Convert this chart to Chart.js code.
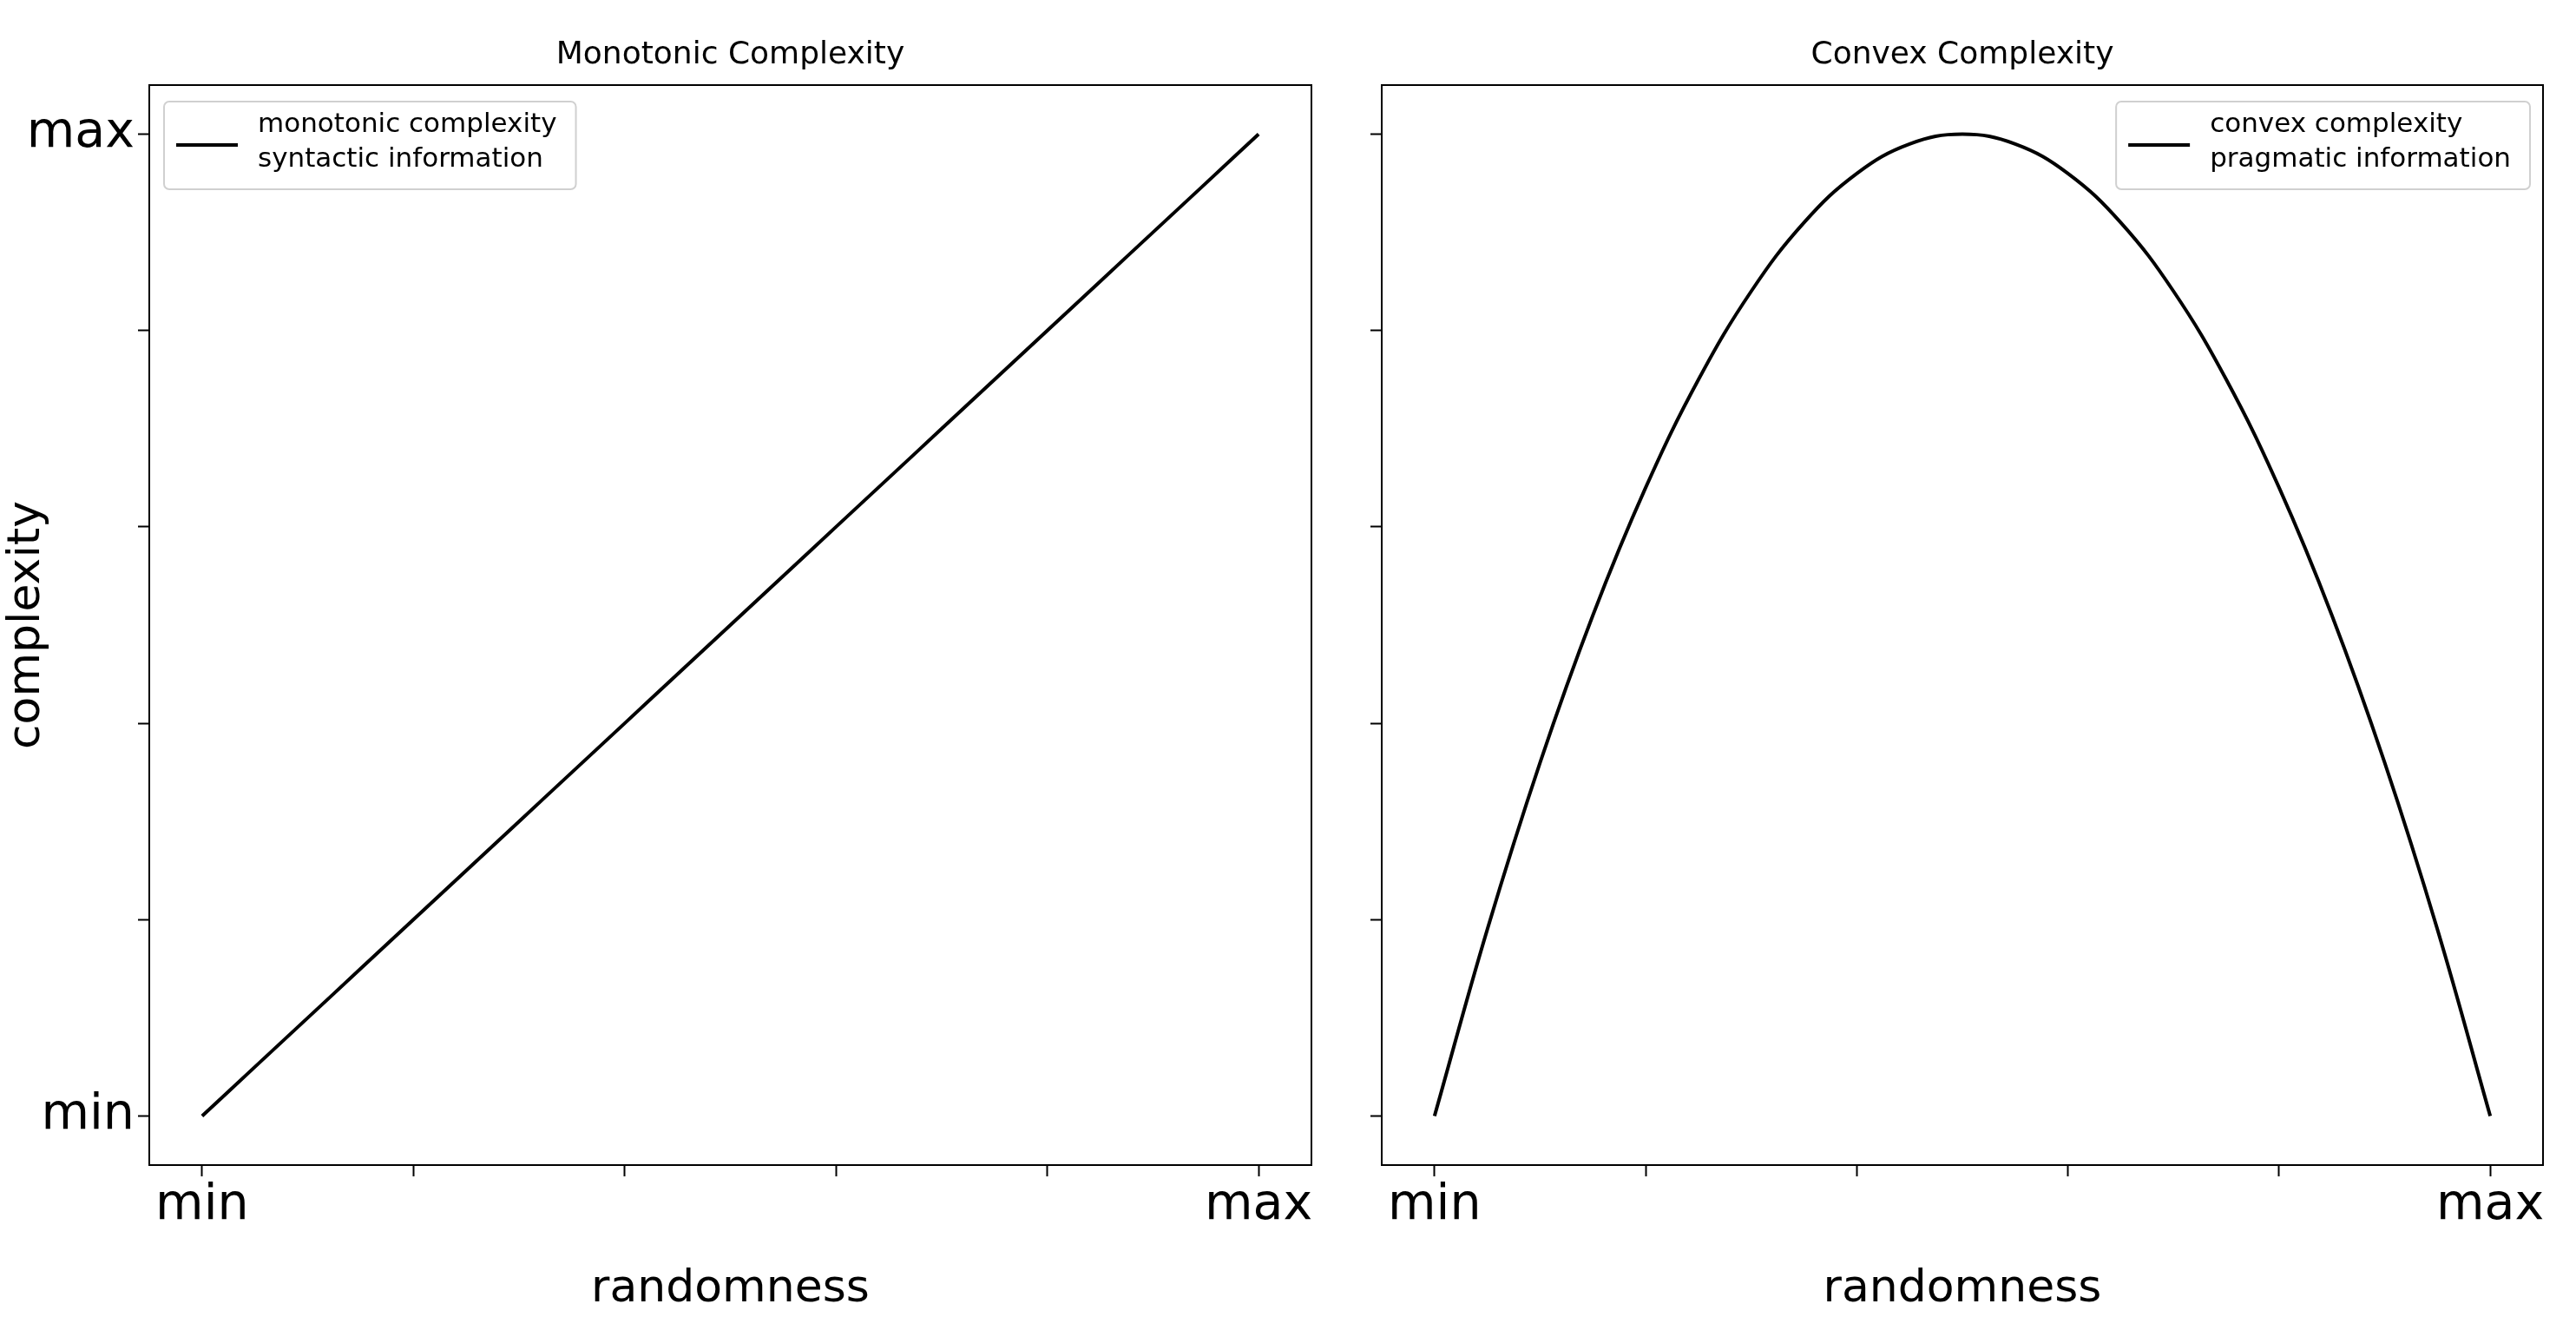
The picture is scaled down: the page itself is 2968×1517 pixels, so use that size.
<!DOCTYPE html>
<html>
<head>
<meta charset="utf-8">
<script src="https://cdn.jsdelivr.net/npm/chart.js@4.4.0/dist/chart.umd.min.js"></script>
<style>
  body { margin: 0; background: #fff; }
  .box { position: absolute; top: 0; height: 1517px; }
</style>
</head>
<body>
<div class="box" style="left:0;width:1540px"><canvas id="left"></canvas></div>
<div class="box" style="left:1540px;width:1428px"><canvas id="right"></canvas></div>
<script>
'use strict';

var xValues = [0, 0.05, 0.1, 0.15, 0.2, 0.25, 0.3, 0.35, 0.4, 0.45, 0.5, 0.55, 0.6, 0.65, 0.7, 0.75, 0.8, 0.85, 0.9, 0.95, 1];
var monotonicValues = [0, 0.05, 0.1, 0.15, 0.2, 0.25, 0.3, 0.35, 0.4, 0.45, 0.5, 0.55, 0.6, 0.65, 0.7, 0.75, 0.8, 0.85, 0.9, 0.95, 1];
var convexValues = [0, 0.19, 0.36, 0.51, 0.64, 0.75, 0.84, 0.91, 0.96, 0.99, 1, 0.99, 0.96, 0.91, 0.84, 0.75, 0.64, 0.51, 0.36, 0.19, 0];
var tickValues = [0, 0.2, 0.4, 0.6, 0.8, 1];
var tickNames = { 0: 'min', 1: 'max' };

var FONT = '"DejaVu Sans", sans-serif';

function toPoints(values) {
    return xValues.map(function (x, i) { return { x: x, y: values[i] }; });
}

function tickLabel(v) {
    return tickNames[v] !== undefined ? tickNames[v] : '';
}

var decor = {
    id: 'decor',
    afterDraw: function (chart, args, opts) {
        var ctx = chart.ctx, a = chart.chartArea;
        ctx.save();
        ctx.strokeStyle = '#000';
        ctx.lineWidth = 2;
        ctx.strokeRect(a.left, a.top, a.right - a.left, a.bottom - a.top);

        ctx.fillStyle = '#000';
        ctx.font = '36px ' + FONT;
        ctx.textAlign = 'center';
        ctx.textBaseline = 'middle';
        ctx.fillText(opts.title, (a.left + a.right) / 2, 64);

        ctx.font = '31px ' + FONT;
        var w = Math.max(ctx.measureText(opts.lines[0]).width, ctx.measureText(opts.lines[1]).width);
        var bw = w + 130, bh = 101;
        var bx = opts.align === 'left' ? a.left + 17 : a.right - 15 - bw;
        var by = a.top + 19;
        ctx.strokeStyle = '#d0d0d0';
        ctx.lineWidth = 2;
        ctx.fillStyle = 'rgba(255,255,255,0.8)';
        ctx.beginPath();
        ctx.roundRect(bx, by, bw, bh, 6);
        ctx.fill();
        ctx.stroke();
        ctx.strokeStyle = '#000';
        ctx.lineWidth = 4;
        ctx.beginPath();
        ctx.moveTo(bx + 14, by + 50);
        ctx.lineTo(bx + 85, by + 50);
        ctx.stroke();
        ctx.fillStyle = '#000';
        ctx.textAlign = 'left';
        ctx.fillText(opts.lines[0], bx + 108, by + 27);
        ctx.fillText(opts.lines[1], bx + 108, by + 67);
        ctx.restore();
    }
};

function makeChart(id, values, cfg) {
    return new Chart(document.getElementById(id), {
        type: 'scatter',
        data: {
            datasets: [{
                data: toPoints(values),
                showLine: true,
                borderColor: '#000',
                borderWidth: 4,
                pointRadius: 0,
                tension: 0.4
            }]
        },
        options: {
            responsive: true,
            maintainAspectRatio: false,
            animation: false,
            layout: { padding: { left: 0, right: cfg.padRight, top: 98, bottom: 0 } },
            plugins: {
                legend: { display: false },
                tooltip: { enabled: false },
                decor: { title: cfg.title, lines: cfg.lines, align: cfg.align }
            },
            scales: {
                x: {
                    type: 'linear', min: -0.05, max: 1.05,
                    afterBuildTicks: function (s) { s.ticks = tickValues.map(function (v) { return { value: v }; }); },
                    afterFit: function (s) { s.height = 175; },
                    grid: { drawOnChartArea: false, tickLength: 13, tickWidth: 2, color: '#000' },
                    border: { display: false },
                    ticks: { callback: tickLabel, color: '#000', font: { family: FONT, size: 57 }, maxRotation: 0, autoSkip: false, padding: 0 },
                    title: { display: true, text: 'randomness', color: '#000', font: { family: FONT, size: 52 }, padding: 0 }
                },
                y: {
                    type: 'linear', min: -0.05, max: 1.05,
                    afterBuildTicks: function (s) { s.ticks = tickValues.map(function (v) { return { value: v }; }); },
                    afterFit: function (s) { s.width = cfg.yWidth; },
                    grid: { drawOnChartArea: false, tickLength: 13, tickWidth: 2, color: '#000' },
                    border: { display: false },
                    ticks: { callback: cfg.yLabels ? tickLabel : function () { return ''; }, color: '#000', font: { family: FONT, size: 57 }, autoSkip: false, padding: 4 },
                    title: { display: cfg.yLabels, text: 'complexity', color: '#000', font: { family: FONT, size: 52 }, padding: 0 }
                }
            }
        },
        plugins: [decor]
    });
}

makeChart('left', monotonicValues, {
    title: 'Monotonic Complexity', lines: ['monotonic complexity', 'syntactic information'],
    align: 'left', padRight: 29, yWidth: 172, yLabels: true
});
makeChart('right', convexValues, {
    title: 'Convex Complexity', lines: ['convex complexity', 'pragmatic information'],
    align: 'right', padRight: 38, yWidth: 52, yLabels: false
});
</script>
</body>
</html>
